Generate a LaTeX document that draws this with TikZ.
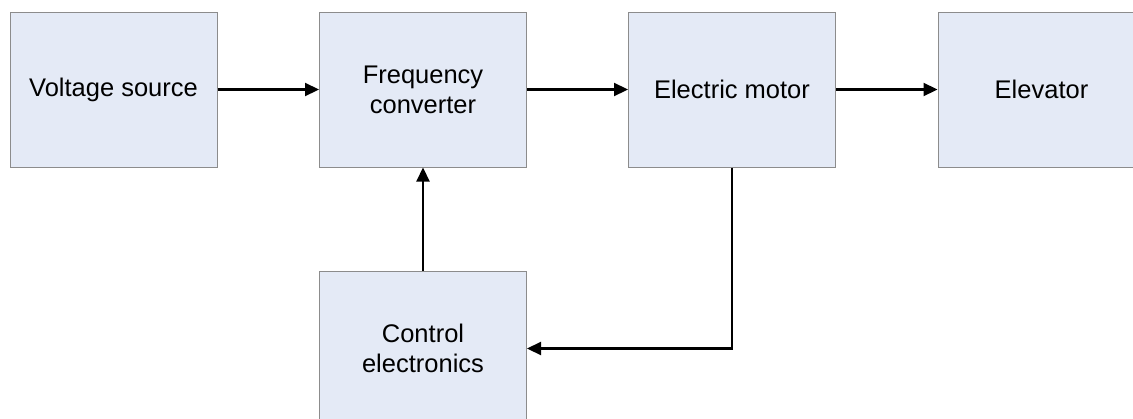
\documentclass[tikz,border=0pt]{standalone}
\usepackage{fontspec}
\setmainfont{Liberation Sans}
\usetikzlibrary{arrows.meta}
\definecolor{boxfill}{RGB}{228,234,246}
\definecolor{boxline}{RGB}{140,140,140}
\tikzset{%
    blk/.style={draw=boxline,fill=boxfill,line width=1pt,minimum width=207pt,minimum height=155pt,
        align=center,font=\fontsize{25.5}{30}\selectfont,inner sep=0pt},
    flow/.style={line width=2.2pt,-{Triangle[length=14pt,width=13pt]}}
}
\begin{document}
\begin{tikzpicture}[x=1pt,y=-1pt]
        \useasboundingbox (0,0) rectangle (1133,418);
        \clip (0,0) rectangle (1133,418);
        \node[blk] (src) at (113.5,89.5) {Voltage source};
        \node[blk] (conv) at (423,89.5) {Frequency\\converter};
        \node[blk] (mot) at (732,89.5) {Electric motor};
        \node[blk] (elev) at (1041.5,89.5) {Elevator};

        \node[blk] (ctrl) at (423,348.5) {Control\\electronics};
        \draw[flow] (src) -- (conv);
        \draw[flow] (conv) -- (mot);
        \draw[flow] (mot) -- (elev);
        \draw[flow] (ctrl) -- (conv);
        \draw[flow] (mot.south) |- (ctrl.east);
    \end{tikzpicture}
\end{document}
